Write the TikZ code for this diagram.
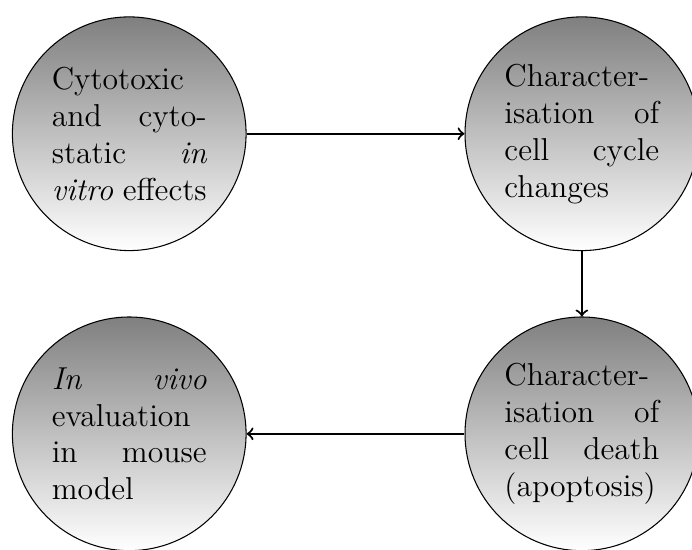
\documentclass[tikz,border=0pt]{standalone}
\usepackage{tikz}
\usetikzlibrary{positioning}
\tikzset{
stagecirc/.style={circle,draw=black,top color=gray,bottom color=white,
  minimum size=3.11cm,text width=2.06cm,inner sep=1pt,align=justify,font=\large},
stagearr/.style={thick,->}
}
\begin{document}
\begin{tikzpicture}[node distance=2.9cm]
\useasboundingbox (0,0) rectangle (9.21,-7.31);
\node[stagecirc] (vitro) at (1.72,-1.78) {Cytotoxic and cyto\-static \emph{in vitro} effects};
\node[stagecirc,right=2.9cm of vitro] (cycle) {Character\-isation of cell cycle changes};
\node[stagecirc,below=0.87cm of cycle] (death) {Character\-isation of cell death (apoptosis)};
\node[stagecirc,left=2.9cm of death] (vivo) {\emph{In vivo} evaluation in mouse model};
\draw[stagearr] (vitro) -- (cycle);
\draw[stagearr] (cycle) -- (death);
\draw[stagearr] (death) -- (vivo);
\end{tikzpicture}
\end{document}
